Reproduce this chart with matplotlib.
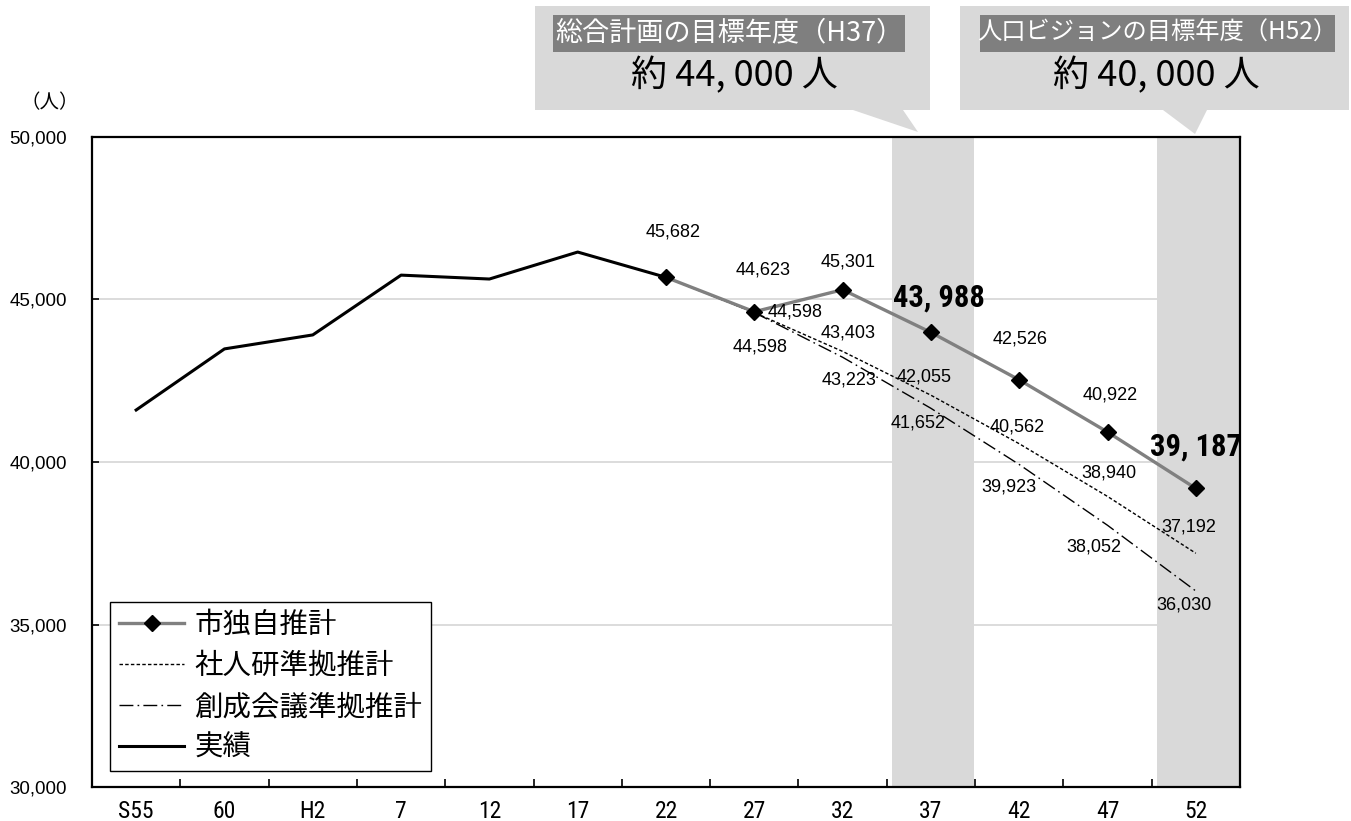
import numpy as np
import matplotlib
matplotlib.use('Agg')
import matplotlib.pyplot as plt
from matplotlib.patches import Polygon, Rectangle
import logging

logging.getLogger('matplotlib.font_manager').setLevel(logging.ERROR)
plt.rcParams['font.family'] = ['Noto Sans CJK JP', 'DejaVu Sans']

# population (people), census years S55..H22 and projections H22..H52
years = ['S55', '60', 'H2', '7', '12', '17', '22', '27', '32', '37', '42', '47', '52']
actual = [41600, 43480, 43910, 45750, 45630, 46460, 45682]
city_est = [45682, 44623, 45301, 43988, 42526, 40922, 39187]
ipss_est = [45682, 44598, 43403, 42055, 40562, 38940, 37192]
jpc_est = [45682, 44598, 43223, 41652, 39923, 38052, 36030]
target_years = ['37', '52']
target_titles = ['総合計画の目標年度（H37）', '人口ビジョンの目標年度（H52）']
target_pops = [44000, 40000]

narrow = ['Roboto Condensed', 'Liberation Sans Narrow', 'Liberation Sans']
num_font = ['Liberation Sans', 'DejaVu Sans']

W, H = 1351, 821
fig = plt.figure(figsize=(W / 100, H / 100), dpi=100)
ax = fig.add_axes([92 / W, 1 - 787 / H, 1148 / W, 650 / H])

x = np.arange(len(years))
proj_x = x[6:]

# highlighted target years
for ty in target_years:
    i = years.index(ty)
    ax.axvspan(i - 0.44, i + 0.49, color='#d9d9d9', zorder=1, lw=0)

ax.plot(proj_x, ipss_est, color='black', lw=1.0, dashes=(2.5, 1.6), zorder=3,
        label='社人研準拠推計')
ax.plot(proj_x, jpc_est, color='black', lw=1.0, dashes=(10, 3, 1.2, 3), zorder=3,
        label='創成会議準拠推計')
ax.plot(proj_x, city_est, color='#808080', lw=2.4, marker='D', ms=8,
        mfc='black', mec='black', zorder=4, label='市独自推計')
ax.plot(x[:len(actual)], actual, color='black', lw=2.2, zorder=5, label='実績')

# value labels: (dx, dy) offsets in pixels
city_off = [(7, 45), (9, 42), (6, 28), (8, 35), (1, 41), (3, 37), (0, 42)]
ipss_off = [None, (41, 1), (6, 18), (-7, 18), (-2, 17), (1, 23), (-7, 26)]
jpc_off = [None, (6, -34), (6, -23), (-13, -15), (-10, -22), (-14, -22), (-12, -14)]

for xi, v, off in zip(proj_x, city_est, city_off):
    if years[xi] in target_years:
        ax.annotate(f'{v:,}'.replace(',', ', '), (xi, v), xytext=off,
                    textcoords='offset pixels', ha='center', va='center',
                    fontsize=22, fontweight='bold', family=narrow, zorder=6)
    else:
        ax.annotate(f'{v:,}', (xi, v), xytext=off, textcoords='offset pixels',
                    ha='center', va='center', fontsize=13, family=num_font, zorder=6)
for series, offs in ((ipss_est, ipss_off), (jpc_est, jpc_off)):
    for xi, v, off in zip(proj_x, series, offs):
        if off is None:
            continue
        ax.annotate(f'{v:,}', (xi, v), xytext=off, textcoords='offset pixels',
                    ha='center', va='center', fontsize=13, family=num_font, zorder=6)

ax.set_xlim(-0.5, len(years) - 0.5)
ax.set_ylim(30000, 50000)
ax.set_yticks(np.arange(30000, 50001, 5000))
ax.set_yticklabels([f'{v:,}' for v in range(30000, 50001, 5000)],
                   family=num_font, fontsize=13.5)
ax.set_xticks(x)
ax.set_xticklabels(years, family=narrow, fontsize=17)
ax.set_xticks(np.arange(-0.5, len(years)), minor=True)
ax.tick_params(axis='x', which='major', length=0, pad=9)
ax.tick_params(axis='x', which='minor', direction='in', length=6, width=1.2)
ax.tick_params(axis='y', direction='in', length=5, width=1.2, pad=18)
ax.yaxis.grid(True, color='#d9d9d9', lw=1.3, zorder=0)
ax.set_axisbelow(True)
for s in ax.spines.values():
    s.set_linewidth(1.6)
    s.set_color('black')

handles, labels = ax.get_legend_handles_labels()
order = [2, 0, 1, 3]
leg = ax.legend([handles[i] for i in order], [labels[i] for i in order],
                loc='lower left', bbox_to_anchor=(0.016, 0.024), fontsize=20.5,
                frameon=True, fancybox=False, edgecolor='black', framealpha=1,
                handlelength=2.3, handletextpad=0.35, labelspacing=0.38,
                borderpad=0.3, borderaxespad=0)
leg.get_frame().set_linewidth(1.0)
leg.set_zorder(7)

fig.text(50 / W, 1 - 103 / H, '（人）', ha='center', va='center', fontsize=14)

# callout boxes above the chart
ov = fig.add_axes([0, 0, 1, 1], zorder=10)
ov.set_xlim(0, W)
ov.set_ylim(H, 0)
ov.axis('off')

boxes = [(535, 930, 853, 903, (918, 132)), (960, 1349, 1163, 1207, (1195, 134))]
strips = [(553, 905), (980, 1335)]
title_sizes = [19.5, 17.5]
for (x0, x1, t0, t1, tip), (s0, s1), title, fs, pop in zip(boxes, strips, target_titles,
                                                          title_sizes, target_pops):
    ov.add_patch(Polygon([(x0, 6), (x1, 6), (x1, 110), (t1, 110), tip, (t0, 110), (x0, 110)],
                         closed=True, facecolor='#d9d9d9', edgecolor='none'))
    ov.add_patch(Rectangle((s0, 15), s1 - s0, 37, facecolor='#7f7f7f', edgecolor='none'))
    ov.text((s0 + s1) / 2, 33, title, color='white', ha='center', va='center', fontsize=fs)
    ov.text((x0 + x1) / 2 + 2, 76, f'約 {pop:,} 人'.replace(',', ', '), color='black',
            ha='center', va='center', fontsize=26)

fig.savefig('out.png', dpi=100)
